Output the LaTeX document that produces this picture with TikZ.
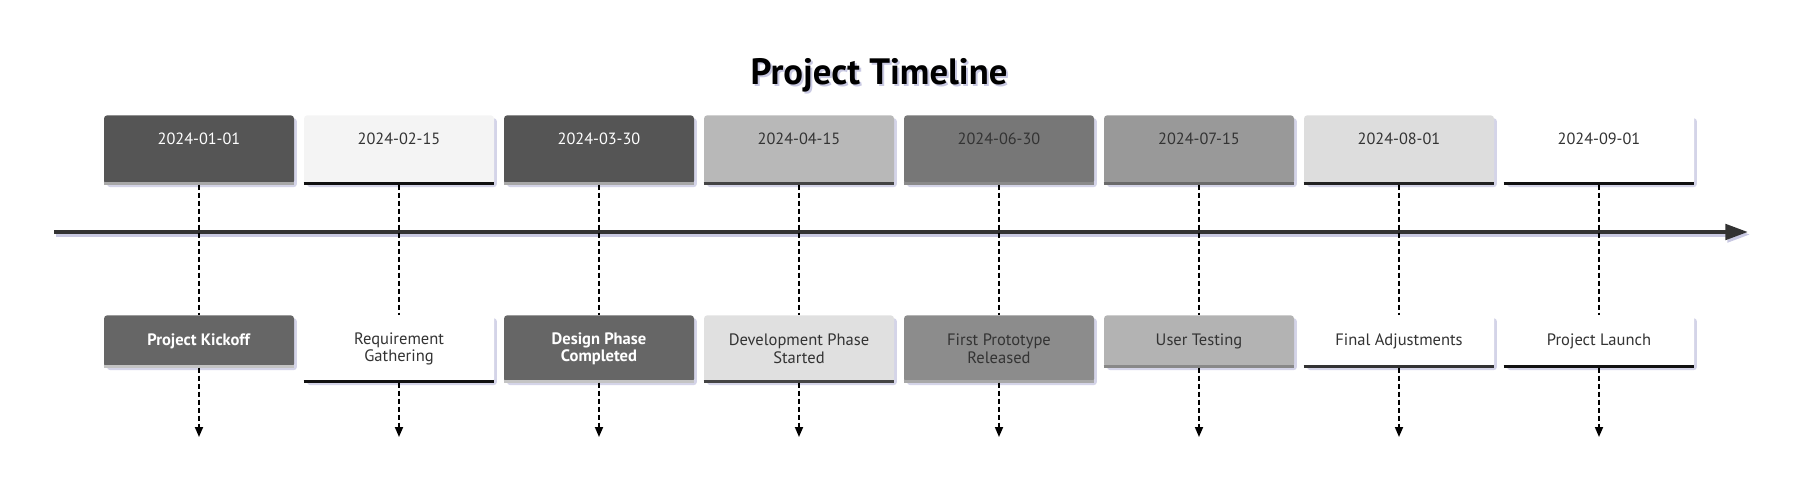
\documentclass[tikz,border=0pt]{standalone}
\usepackage{fontspec}
\setmainfont{PT Sans}
\usetikzlibrary{arrows.meta,shadows}
\definecolor{shcol}{HTML}{C9C9E2}
\definecolor{axcol}{HTML}{333333}
\begin{document}
\begin{tikzpicture}[x=0.75pt,y=-0.75pt,
  titlestyle/.style={font=\fontsize{27.5pt}{30pt}\selectfont\bfseries, text=black, inner sep=0pt},
  titleshadow/.style={font=\fontsize{27.5pt}{30pt}\selectfont\bfseries, text=shcol, inner sep=0pt},
  boxshadow/.style={drop shadow={shadow xshift=2.2pt, shadow yshift=-2.2pt, fill=shcol, opacity=0.8}},
  datebox/.style={rectangle, rounded corners=2.5pt, minimum width=142.5pt, minimum height=51.75pt, inner sep=0pt, boxshadow},
  datetext/.style={font=\fontsize{12.2pt}{13.5pt}\selectfont, inner sep=0pt},
  evbox/.style={rectangle, rounded corners=2.5pt, minimum width=142.5pt, inner sep=0pt, align=center, font=\fontsize{12.4pt}{13pt}\selectfont, boxshadow},
  barline/.style={line width=2.25pt},
  dline/.style={line width=1.3pt, dash pattern=on 3.75pt off 2.25pt, draw=black},
  axis/.style={line width=3pt, draw=axcol, -{Triangle[length=17pt,width=11.5pt]}},
  axisshadow/.style={line width=3pt, draw=shcol, -{Triangle[length=17pt,width=11.5pt]}},
]
\useasboundingbox (0,0) rectangle (1804,496);
\node[titleshadow] (tshadow) at (881,77.5) {Project Timeline};
\node[titlestyle] (title) at (879,75) {Project Timeline};
\coordinate (axL) at (54,232);
\coordinate (axR) at (1748,232);
\coordinate (axLs) at (56,234.5);
\coordinate (axRs) at (1750,234.5);
\draw[axisshadow] (axLs) -- (axRs);
\draw[axis] (axL) -- (axR);
\foreach \i/\df/\db/\dtc/\ef/\eb/\etc/\dt/\ev/\eh in {
 1/555555/A8A8A8/FFFFFF/666666/C4C4C4/FFFFFF/2024-01-01/{\textbf{Project Kickoff}}/39pt,
 2/F4F4F4/111111/333333/FFFFFF/111111/333333/2024-02-15/{Requirement\\Gathering}/50.25pt,
 3/555555/A8A8A8/FFFFFF/666666/C4C4C4/FFFFFF/2024-03-30/{\textbf{Design Phase}\\\textbf{Completed}}/50.25pt,
 4/B8B8B8/444444/333333/E0E0E0/444444/333333/2024-04-15/{Development Phase\\Started}/50.25pt,
 5/777777/8A8A8A/333333/8C8C8C/A8A8A8/333333/2024-06-30/{First Prototype\\Released}/50.25pt,
 6/999999/6A6A6A/333333/B3B3B3/888888/333333/2024-07-15/{User Testing}/39pt,
 7/DDDDDD/222222/333333/FFFFFF/333333/333333/2024-08-01/{Final Adjustments}/39pt,
 8/FFFFFF/111111/333333/FFFFFF/111111/333333/2024-09-01/{Project Launch}/39pt}{
  \pgfmathsetmacro\cx{199+200*(\i-1)}
  \definecolor{dfc}{HTML}{\df}
  \definecolor{dbc}{HTML}{\db}
  \definecolor{dtcc}{HTML}{\dtc}
  \definecolor{efc}{HTML}{\ef}
  \definecolor{ebc}{HTML}{\eb}
  \definecolor{etcc}{HTML}{\etc}
  \node[datebox, fill=dfc, anchor=north] (d\i) at (\cx,115) {};
  \draw[barline, draw=dbc] ([yshift=1.125pt]d\i.south west) -- ([yshift=1.125pt]d\i.south east);
  \node[datetext, text=dtcc] (dt\i) at ([yshift=-18pt]d\i.north) {\dt};
  \node[evbox, fill=efc, text=etcc, minimum height=\eh, anchor=north] (e\i) at (\cx,315) {\ev};
  \draw[barline, draw=ebc] ([yshift=1.125pt]e\i.south west) -- ([yshift=1.125pt]e\i.south east);
  \draw[dline] (d\i.south) -- (e\i.north);
  \coordinate (end\i) at (\cx,437);
  \draw[dline, -{Triangle[length=7.5pt,width=6pt]}] (e\i.south) -- (end\i);
}
\end{tikzpicture}
\end{document}
